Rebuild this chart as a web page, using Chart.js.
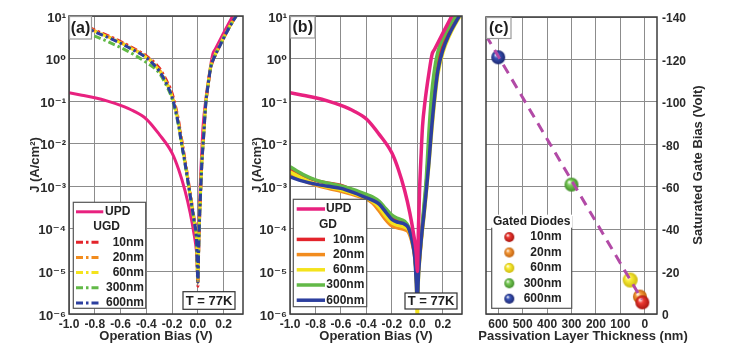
<!DOCTYPE html>
<html>
<head>
<meta charset="utf-8">
<script src="https://cdn.jsdelivr.net/npm/chart.js@4.4.1/dist/chart.umd.min.js"></script>
<style>
  body { margin: 0; background: #fff; }
  #wrap { position: relative; width: 750px; height: 357px; overflow: hidden; background: #fff; }
  #wrap canvas { position: absolute; top: 0; }
</style>
</head>
<body>
<div id="wrap">
  <canvas id="chartA" width="250" height="357" style="left:0px"></canvas>
  <canvas id="chartB" width="220" height="357" style="left:250px"></canvas>
  <canvas id="chartC" width="280" height="357" style="left:470px"></canvas>
</div>
<script>
// axis ticks
let biasTicks = [-1.0, -0.8, -0.6, -0.4, -0.2, 0.0, 0.2];
let decadeTicks = [1e-6, 1e-5, 1e-4, 1e-3, 1e-2, 1e-1, 1e0, 1e1];
let decadeLabels = ['10⁻⁶', '10⁻⁵', '10⁻⁴', '10⁻³', '10⁻²', '10⁻¹', '10⁰', '10¹'];
let thicknessTicks = [0, 100, 200, 300, 400, 500, 600];
let gateBiasTicks = [-140, -120, -100, -80, -60, -40, -20, 0];

// UPD curve (same device in a and b), values read as log10(J)
let biasUPD = [-1.0, -0.9, -0.8, -0.7, -0.6, -0.5, -0.4, -0.3, -0.2, -0.15, -0.1, -0.06, -0.03, -0.01, 0.0,
  0.008, 0.018, 0.03, 0.04, 0.06, 0.09, 0.115, 0.135, 0.2, 0.27, 0.32];
let logUPD = [-0.8, -0.86, -0.92, -1.0, -1.1, -1.23, -1.42, -1.78, -2.22, -2.6, -3.1, -3.62, -4.12, -4.55, -5.0,
  -4.0, -3.0, -2.2, -1.6, -1.0, -0.35, 0.1, 0.22, 0.6, 1.0, 1.3];

// panel (a): unpassivated gated diodes, log10(J)
let biasUGD = [-1.0, -0.9, -0.8, -0.7, -0.6, -0.5, -0.4, -0.3, -0.25, -0.2, -0.15, -0.13, -0.1, -0.07, -0.05, -0.03, -0.01, 0.0,
  0.005, 0.01, 0.02, 0.03, 0.045, 0.06, 0.08, 0.1, 0.13, 0.17, 0.22, 0.28, 0.32];
let logUGD10 = [0.98, 0.82, 0.67, 0.54, 0.4, 0.24, 0.06, -0.22, -0.48, -0.82, -1.46, -1.83, -2.38, -2.96, -3.35, -3.75, -4.26, -5.35,
  -4.64, -4.05, -3.22, -2.52, -1.82, -1.12, -0.62, -0.22, 0.04, 0.3, 0.6, 0.93, 1.11];
let logUGD20 = [0.96, 0.8, 0.65, 0.52, 0.38, 0.22, 0.04, -0.26, -0.52, -0.88, -1.5, -1.88, -2.42, -3.0, -3.38, -3.78, -4.28, -5.26,
  -4.62, -4.0, -3.21, -2.51, -1.8, -1.1, -0.6, -0.2, 0.05, 0.3, 0.6, 0.92, 1.1];
let logUGD60 = [0.95, 0.79, 0.64, 0.51, 0.37, 0.21, 0.03, -0.28, -0.54, -0.9, -1.53, -1.91, -2.44, -3.01, -3.39, -3.79, -4.26, -5.2,
  -4.55, -3.95, -3.15, -2.45, -1.74, -1.05, -0.56, -0.17, 0.07, 0.32, 0.62, 0.93, 1.1];
let logUGD300 = [0.82, 0.66, 0.53, 0.4, 0.26, 0.1, -0.09, -0.34, -0.6, -0.95, -1.58, -1.95, -2.47, -3.04, -3.42, -3.82, -4.32, -5.25,
  -4.6, -4.0, -3.2, -2.5, -1.8, -1.1, -0.6, -0.2, 0.05, 0.3, 0.6, 0.92, 1.1];
let logUGD600 = [0.95, 0.78, 0.63, 0.5, 0.36, 0.2, 0.02, -0.29, -0.55, -0.91, -1.55, -1.93, -2.45, -3.02, -3.4, -3.8, -4.3, -5.25,
  -4.6, -4.0, -3.2, -2.5, -1.8, -1.1, -0.6, -0.2, 0.05, 0.3, 0.6, 0.92, 1.1];

// panel (b): gated diodes, log10(J)
let biasGD = [-1.0, -0.9, -0.8, -0.7, -0.6, -0.5, -0.4, -0.35, -0.3, -0.25, -0.2, -0.15, -0.1, -0.07, -0.04, -0.02, -0.01,
  0.0, 0.005, 0.02, 0.035, 0.05, 0.07, 0.09, 0.11, 0.13, 0.16, 0.2, 0.25, 0.3, 0.34];
let logGD10 = [-2.6, -2.75, -2.86, -2.93, -2.98, -3.1, -3.22, -3.3, -3.4, -3.56, -3.72, -3.8, -3.86, -3.98, -4.28, -4.62, -5.0,
  -5.5, -5.1, -4.55, -4.05, -3.6, -2.95, -2.1, -1.3, -0.7, -0.07, 0.33, 0.67, 0.93, 1.12];
let logGD20 = [-2.7, -2.86, -2.97, -3.05, -3.12, -3.2, -3.3, -3.4, -3.58, -3.78, -3.93, -3.98, -4.02, -4.08, -4.35, -4.68, -5.05,
  -5.6, -5.15, -4.6, -4.1, -3.65, -3.05, -2.3, -1.55, -0.95, -0.22, 0.25, 0.62, 0.9, 1.08];
let logGD60 = [-2.66, -2.82, -2.95, -3.02, -3.08, -3.17, -3.28, -3.36, -3.5, -3.7, -3.86, -3.92, -3.96, -4.02, -4.3, -4.65, -5.1,
  -6.1, -5.4, -4.65, -4.15, -3.75, -3.15, -2.5, -1.8, -1.15, -0.38, 0.14, 0.53, 0.82, 1.02];
let logGD300 = [-2.54, -2.72, -2.85, -2.93, -2.99, -3.08, -3.19, -3.25, -3.35, -3.52, -3.68, -3.76, -3.82, -3.95, -4.25, -4.6, -5.0,
  -5.5, -5.0, -4.5, -4.0, -3.5, -2.8, -1.75, -0.9, -0.35, 0.15, 0.47, 0.76, 1.0, 1.18];
let logGD600 = [-2.78, -2.88, -2.95, -3.0, -3.05, -3.15, -3.27, -3.33, -3.42, -3.6, -3.78, -3.85, -3.89, -3.98, -4.3, -4.7, -5.2,
  -5.8, -5.3, -4.6, -4.1, -3.7, -3.1, -2.45, -1.7, -1.05, -0.3, 0.2, 0.57, 0.85, 1.05];

// panel (c): saturated gate bias vs passivation thickness
let thicknessNm = [600, 300, 60, 20, 10];
let satGateBias = [-121, -61, -16, -8.2, -5.5];
let fitThickness = [650, 12];
let fitGateBias = [-131.3, -6.8];

let gridColor = '#8c8c8c';
let updColor = '#e8217f';
let nmColors = { 10: '#e3242b', 20: '#f28c1e', 60: '#f4e31c', 300: '#62b947', 600: '#2c3f9f' };
let dashDot = [7, 3, 2.5, 3];

Chart.defaults.font.family = "'Liberation Sans', Arial, 'DejaVu Sans', sans-serif";
Chart.defaults.color = '#2a2a2a';
Chart.defaults.animation = false;

function toJ(logs) { return logs.map(v => Math.pow(10, v)); }
function pts(xs, ys) { return xs.map((x, i) => ({ x: x, y: ys[i] })); }

// shaded ball used as point style in (c)
function makeBall(color, dark, r) {
  let c = document.createElement('canvas');
  c.width = c.height = Math.ceil(r * 2) + 2;
  let g = c.getContext('2d');
  let m = c.width / 2;
  let grad = g.createRadialGradient(m - r * 0.35, m - r * 0.4, r * 0.05, m, m, r);
  grad.addColorStop(0, '#ffffff');
  grad.addColorStop(0.35, color);
  grad.addColorStop(1, dark);
  g.fillStyle = grad;
  g.beginPath();
  g.arc(m, m, r, 0, Math.PI * 2);
  g.fill();
  return c;
}
let ballShades = {
  10: ['#ee3a33', '#a8140f'], 20: ['#f59a3a', '#c0600c'], 60: ['#fbee3a', '#cdb90c'],
  300: ['#7ccc5a', '#3f8c27'], 600: ['#3a55b8', '#1b2670']
};
let bigBalls = thicknessNm.map(t => makeBall(ballShades[t][0], ballShades[t][1], t === 60 ? 7.5 : 7));
let smallBalls = {};
[10, 20, 60, 300, 600].forEach(t => { smallBalls[t] = makeBall(ballShades[t][0], ballShades[t][1], 5); });

function boxText(ctx, text, x, y, w, h, font, border) {
  ctx.fillStyle = '#fff';
  ctx.fillRect(x, y, w, h);
  ctx.lineWidth = 1.2;
  ctx.strokeStyle = border;
  ctx.strokeRect(x, y, w, h);
  ctx.fillStyle = '#1e1e1e';
  ctx.font = font;
  ctx.textAlign = 'center';
  ctx.textBaseline = 'middle';
  ctx.fillText(text, x + w / 2, y + h / 2 + 0.5);
}

// frame, panel letter, legend, temperature box and extra titles
let panelDecor = {
  id: 'panelDecor',
  afterDraw(chart, args, o) {
    let ctx = chart.ctx, a = chart.chartArea;
    ctx.save();
    ctx.setLineDash([]);
    ctx.strokeStyle = '#3c3c3c';
    ctx.lineWidth = 1.5;
    ctx.strokeRect(a.left, a.top, a.right - a.left, a.bottom - a.top);

    if (o.letter) {
      boxText(ctx, o.letter.text, a.left + 0.5, a.top + 0.5, o.letter.w, o.letter.h, 'bold 16px "Liberation Sans", Arial', '#9a9a9a');
    }
    if (o.temp) {
      boxText(ctx, 'T = 77K', a.right - o.temp.fromRight, a.bottom - o.temp.fromBottom, o.temp.w, o.temp.h, 'bold 13px "Liberation Sans", Arial', '#333');
    }
    if (o.legend) {
      let lg = o.legend;
      let x0 = a.left + lg.x, y0 = a.bottom - lg.fromBottom;
      ctx.fillStyle = '#fff';
      ctx.fillRect(x0, y0, lg.w, lg.h);
      ctx.lineWidth = 1.2;
      ctx.strokeStyle = '#555';
      ctx.strokeRect(x0, y0, lg.w, lg.h);
      ctx.font = 'bold 12px "Liberation Sans", Arial';
      ctx.textBaseline = 'middle';
      lg.rows.forEach((row, i) => {
        let y = y0 + lg.firstRow + i * lg.rowGap;
        if (row.title) {
          let tw = ctx.measureText(row.text).width;
          ctx.fillStyle = '#fff';
          ctx.fillRect(x0 + lg.w / 2 - tw / 2 - 2, y - 7, tw + 4, 13);
          ctx.fillStyle = '#222';
          ctx.textAlign = 'center';
          ctx.fillText(row.text, x0 + lg.w / 2, y);
          return;
        }
        if (row.header) {
          ctx.fillStyle = '#222';
          ctx.textAlign = 'center';
          ctx.fillText(row.text, x0 + lg.headerX, y);
          return;
        }
        if (row.ball) {
          let img = smallBalls[row.ball];
          ctx.drawImage(img, x0 + lg.ballX - img.width / 2, y - img.height / 2);
        } else {
          let ds = chart.data.datasets[row.ds];
          ctx.strokeStyle = ds.borderColor;
          ctx.lineWidth = ds.borderWidth;
          ctx.setLineDash(ds.borderDash || []);
          ctx.beginPath();
          ctx.moveTo(x0 + lg.lineFrom, y);
          ctx.lineTo(x0 + (row.lineTo || lg.lineTo), y);
          ctx.stroke();
          ctx.setLineDash([]);
        }
        ctx.fillStyle = '#222';
        if (row.leftX) {
          ctx.textAlign = 'left';
          ctx.fillText(row.text, x0 + row.leftX, y);
        } else {
          ctx.textAlign = 'right';
          ctx.fillText(row.text, x0 + lg.textRight, y);
        }
      });
    }
    (o.titles || []).forEach(t => {
      ctx.save();
      ctx.translate(t.x, t.y);
      ctx.rotate(t.rot || 0);
      ctx.font = 'bold 13px "Liberation Sans", Arial';
      ctx.fillStyle = '#2a2a2a';
      ctx.textAlign = 'center';
      ctx.textBaseline = 'middle';
      ctx.fillText(t.text, 0, 0);
      ctx.restore();
    });
    ctx.restore();
  }
};

function biasScales(yWidth, yTitlePad) {
  return {
    x: {
      type: 'linear', min: -1.0, max: 0.35,
      afterBuildTicks: s => { s.ticks = biasTicks.map(v => ({ value: v })); },
      afterFit: s => { s.height = 43; },
      ticks: { font: { size: 12, weight: 'bold' }, padding: 3, maxRotation: 0, callback: v => v.toFixed(1) },
      grid: { color: gridColor, drawTicks: false },
      border: { display: false },
      title: { display: true, text: 'Operation Bias (V)', font: { size: 13, weight: 'bold' }, padding: { top: 0, bottom: 13 } }
    },
    y: {
      type: 'logarithmic', min: 1e-6, max: 10,
      afterBuildTicks: s => { s.ticks = decadeTicks.map(v => ({ value: v })); },
      afterFit: s => { s.width = yWidth; },
      ticks: { font: { size: 13, weight: 'bold' }, padding: 3, labelOffset: 2, callback: (v, i) => decadeLabels[i] },
      grid: { color: gridColor, drawTicks: false },
      border: { display: false },
      title: { display: true, text: 'J (A/cm²)', font: { size: 13, weight: 'bold' }, padding: { top: yTitlePad, bottom: 0 } }
    }
  };
}

function curve(label, xs, logs, color, width, dash, dashOffset, order) {
  return {
    label: label, data: pts(xs, toJ(logs)), showLine: true,
    borderColor: color, backgroundColor: color, borderWidth: width,
    borderDash: dash, borderDashOffset: dashOffset, order: order,
    pointRadius: 0, tension: 0.3, cubicInterpolationMode: 'monotone'
  };
}

// (a)
new Chart(document.getElementById('chartA'), {
  type: 'scatter',
  data: {
    datasets: [
      curve('UPD', biasUPD, logUPD, updColor, 3, [], 0, 9),
      curve('10nm', biasUGD, logUGD10, nmColors[10], 3, dashDot, 9, 5),
      curve('20nm', biasUGD, logUGD20, nmColors[20], 3, dashDot, 5, 4),
      curve('60nm', biasUGD, logUGD60, nmColors[60], 3, dashDot, 12, 3),
      curve('300nm', biasUGD, logUGD300, nmColors[300], 3, dashDot, 3, 2),
      curve('600nm', biasUGD, logUGD600, nmColors[600], 3, dashDot, 0, 1)
    ]
  },
  options: {
    responsive: false, devicePixelRatio: 1,
    layout: { padding: { left: 0, right: 7, top: 16, bottom: 0 } },
    scales: biasScales(69, 28),
    plugins: {
      legend: { display: false }, tooltip: { enabled: false },
      panelDecor: {
        letter: { text: '(a)', w: 22, h: 22.5 },
        temp: { fromRight: 60, fromBottom: 22.3, w: 52, h: 17.6 },
        legend: {
          x: 4.3, fromBottom: 111.7, w: 72.4, h: 106, firstRow: 9.5, rowGap: 15.2,
          lineFrom: 2.7, lineTo: 26.7, textRight: 70.7, headerX: 33.4,
          rows: [
            { ds: 0, text: 'UPD', leftX: 31.7, lineTo: 30 },
            { header: true, text: 'UGD' },
            { ds: 1, text: '10nm' }, { ds: 2, text: '20nm' }, { ds: 3, text: '60nm' },
            { ds: 4, text: '300nm' }, { ds: 5, text: '600nm' }
          ]
        }
      }
    }
  },
  plugins: [panelDecor]
});

// (b)
new Chart(document.getElementById('chartB'), {
  type: 'scatter',
  data: {
    datasets: [
      curve('UPD', biasUPD, logUPD, updColor, 3.5, [], 0, 0),
      curve('10nm', biasGD, logGD10, nmColors[10], 3.5, [], 0, 4),
      curve('20nm', biasGD, logGD20, nmColors[20], 3.5, [], 0, 5),
      curve('60nm', biasGD, logGD60, nmColors[60], 3.5, [], 0, 3),
      curve('300nm', biasGD, logGD300, nmColors[300], 3.5, [], 0, 2),
      curve('600nm', biasGD, logGD600, nmColors[600], 3.5, [], 0, 1)
    ]
  },
  options: {
    responsive: false, devicePixelRatio: 1,
    layout: { padding: { left: 0, right: 8, top: 16, bottom: 0 } },
    scales: biasScales(40, 0),
    plugins: {
      legend: { display: false }, tooltip: { enabled: false },
      panelDecor: {
        letter: { text: '(b)', w: 24.5, h: 21.5 },
        temp: { fromRight: 57, fromBottom: 21, w: 52, h: 16 },
        legend: {
          x: 3.3, fromBottom: 114.7, w: 73.4, h: 107.4, firstRow: 9.7, rowGap: 15.2,
          lineFrom: 3.4, lineTo: 31.7, textRight: 71, headerX: 34.7,
          rows: [
            { ds: 0, text: 'UPD', leftX: 32.7 },
            { header: true, text: 'GD' },
            { ds: 1, text: '10nm' }, { ds: 2, text: '20nm' }, { ds: 3, text: '60nm' },
            { ds: 4, text: '300nm' }, { ds: 5, text: '600nm' }
          ]
        }
      }
    }
  },
  plugins: [panelDecor]
});

// (c)
new Chart(document.getElementById('chartC'), {
  type: 'scatter',
  data: {
    datasets: [
      {
        label: 'fit', data: pts(fitThickness, fitGateBias), showLine: true,
        borderColor: '#b24aa6', borderWidth: 3, borderDash: [10, 7], pointRadius: 0, order: 0
      },
      {
        label: 'Gated Diodes', data: pts(thicknessNm, satGateBias), showLine: false,
        pointStyle: ctx => bigBalls[ctx.dataIndex], order: 1
      }
    ]
  },
  options: {
    responsive: false, devicePixelRatio: 1,
    layout: { padding: { left: 16, right: 0, top: 17, bottom: 0 } },
    scales: {
      x: {
        type: 'linear', min: -50, max: 650, reverse: true,
        afterBuildTicks: s => { s.ticks = thicknessTicks.map(v => ({ value: v })); },
        afterFit: s => { s.height = 43; },
        ticks: { font: { size: 12, weight: 'bold' }, padding: 3, maxRotation: 0 },
        grid: { color: gridColor, drawTicks: false },
        border: { display: false }
      },
      y: {
        type: 'linear', position: 'right', min: -140, max: 0, reverse: true,
        afterBuildTicks: s => { s.ticks = gateBiasTicks.map(v => ({ value: v })); },
        afterFit: s => { s.width = 93; },
        ticks: { font: { size: 12, weight: 'bold' }, padding: 5, labelOffset: 2 },
        grid: { color: gridColor, drawTicks: false },
        border: { display: false }
      }
    },
    plugins: {
      legend: { display: false }, tooltip: { enabled: false },
      panelDecor: {
        letter: { text: '(c)', w: 24.5, h: 21 },
        legend: {
          x: 5.7, fromBottom: 97.3, w: 80, h: 91.6, firstRow: 5, rowGap: 15.4,
          ballX: 17.6, textRight: 70,
          rows: [
            { title: true, text: 'Gated Diodes' },
            { ball: 10, text: '10nm' }, { ball: 20, text: '20nm' }, { ball: 60, text: '60nm' },
            { ball: 300, text: '300nm' }, { ball: 600, text: '600nm' }
          ]
        },
        titles: [
          { text: 'Passivation Layer Thickness (nm)', x: 113, y: 336 },
          { text: 'Saturated Gate Bias (Volt)', x: 228, y: 165, rot: -Math.PI / 2 }
        ]
      }
    }
  },
  plugins: [panelDecor]
});
</script>
</body>
</html>
